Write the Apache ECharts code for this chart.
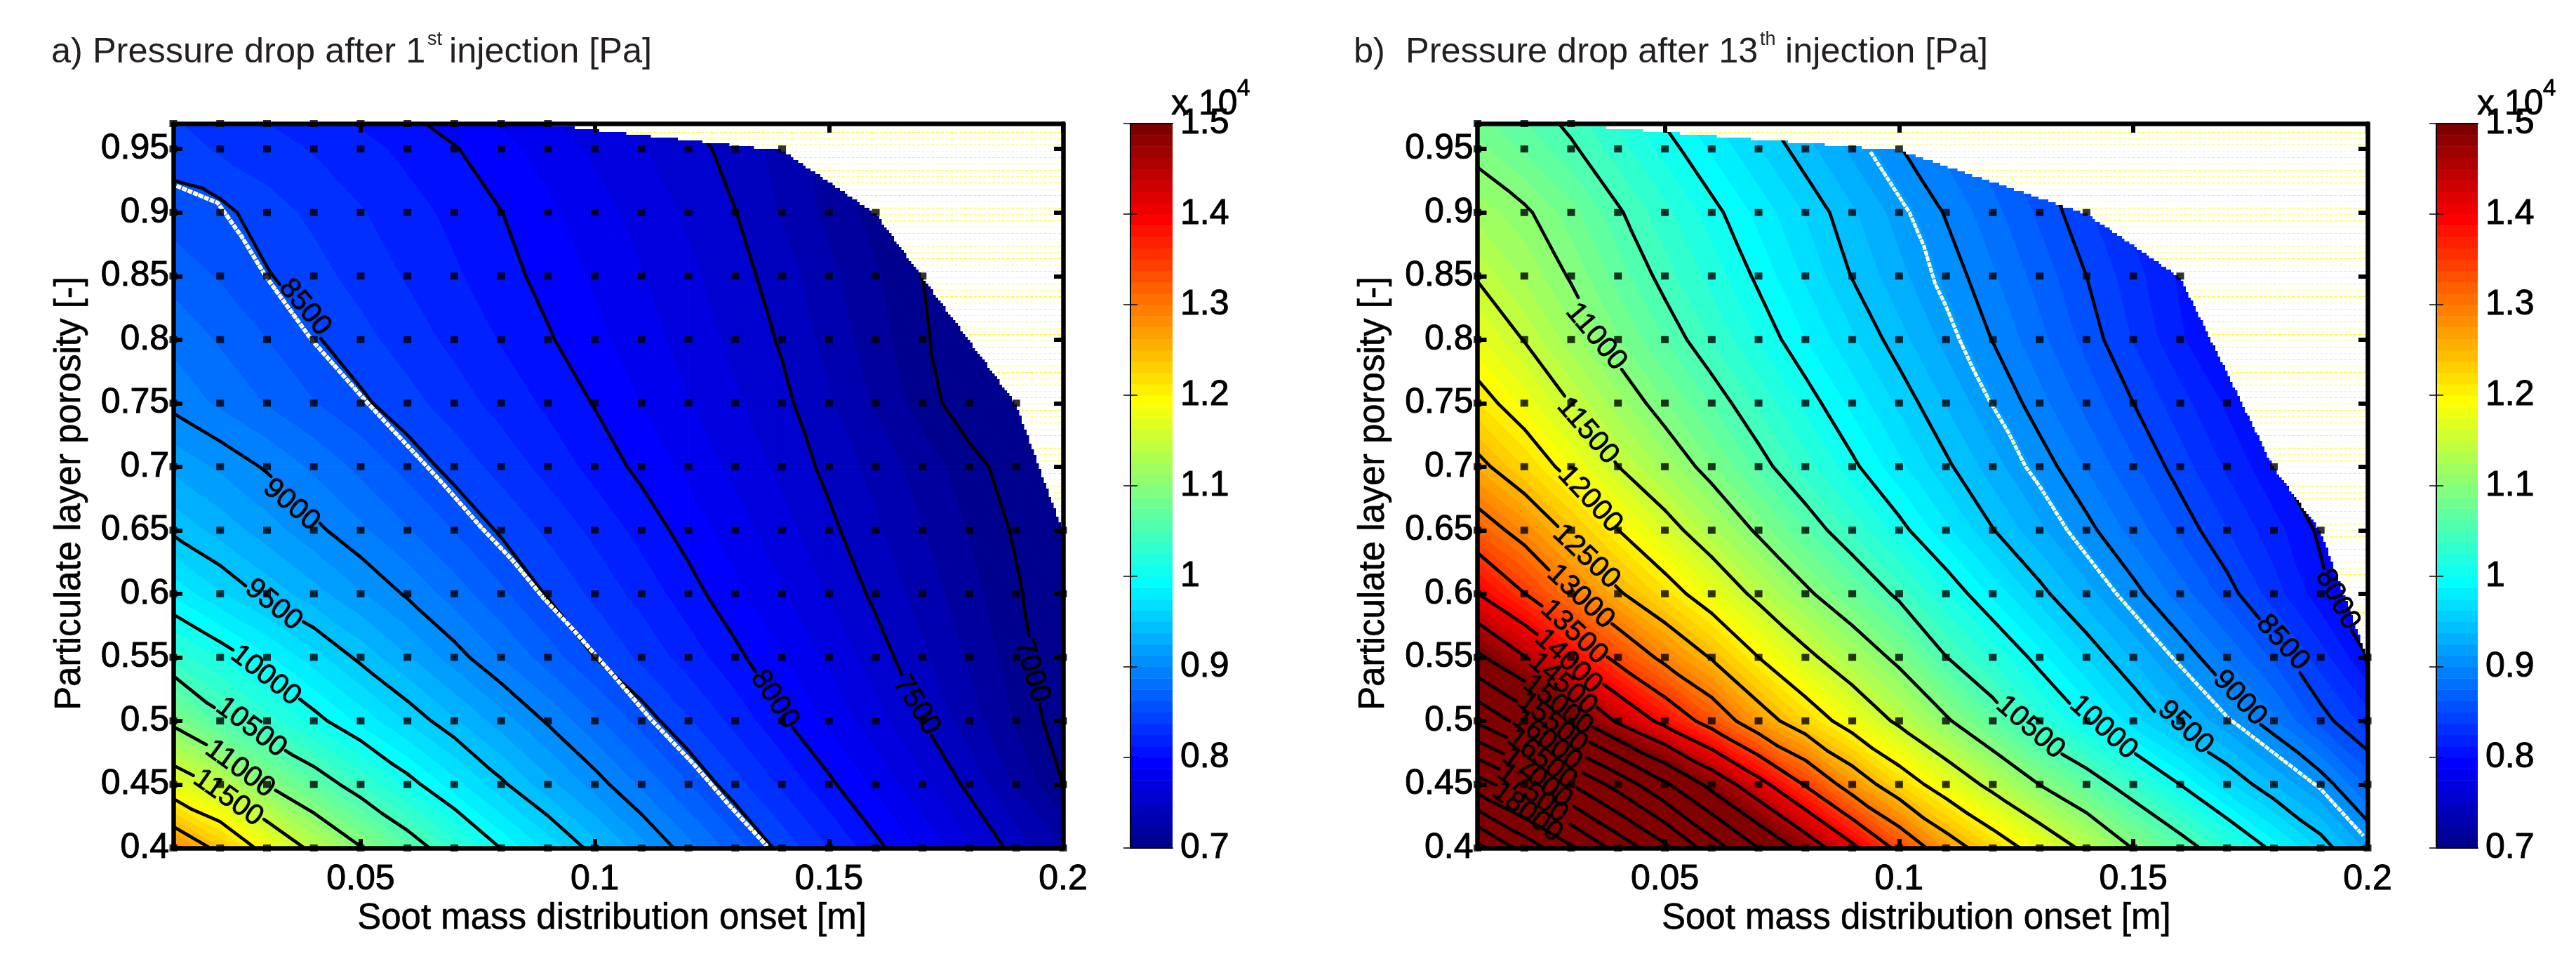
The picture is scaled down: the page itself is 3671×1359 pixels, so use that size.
<!DOCTYPE html>
<html>
<head>
<meta charset="utf-8">
<title>Pressure drop</title>
<script src="https://cdn.jsdelivr.net/npm/echarts@6/dist/echarts.min.js"></script>
<style>
	html, body { margin: 0; padding: 0; background: #fff; }
	#chart { width: 3671px; height: 1359px; }
</style>
</head>
<body>
<div id="chart"></div>
<script>
// measurement nodes, the black squares in the picture
const sootX = [0.01, 0.02, 0.03, 0.04, 0.05, 0.06, 0.07, 0.08, 0.09, 0.1, 0.11, 0.12, 0.13, 0.14, 0.15, 0.16, 0.17, 0.18, 0.19, 0.2];
const porosityY = [0.4, 0.45, 0.5, 0.55, 0.6, 0.65, 0.7, 0.75, 0.8, 0.85, 0.9, 0.95, 0.97];

const xTicks = [0.05, 0.1, 0.15, 0.2];
const yTicks = [0.4, 0.45, 0.5, 0.55, 0.6, 0.65, 0.7, 0.75, 0.8, 0.85, 0.9, 0.95];

// pressure drop [Pa], one row per porosity value
const dropA = [
	[12880, 12396, 11865, 11407, 11019, 10661, 10320, 9994, 9712, 9435, 9173, 8920, 8684, 8455, 8248, 8041, 7843, 7646, 7450, 7248],
	[11748, 11441, 10990, 10670, 10365, 10078, 9802, 9534, 9294, 9069, 8847, 8628, 8419, 8225, 8031, 7843, 7657, 7465, 7233, 7000],
	[10923, 10570, 10308, 10067, 9836, 9609, 9393, 9186, 8980, 8777, 8574, 8388, 8207, 8020, 7846, 7673, 7500, 7305, 7111, 6916],
	[10325, 10115, 9898, 9677, 9460, 9261, 9062, 8872, 8686, 8500, 8345, 8190, 8036, 7879, 7722, 7564, 7400, 7229, 7058, 6890],
	[9845, 9640, 9456, 9297, 9138, 8979, 8814, 8649, 8486, 8343, 8199, 8055, 7908, 7763, 7617, 7470, 7320, 7171, 7021, 6870],
	[9470, 9326, 9183, 9039, 8899, 8760, 8620, 8481, 8348, 8214, 8080, 7945, 7808, 7671, 7534, 7394, 7253, 7115, 6980, 6850],
	[9216, 9100, 8981, 8847, 8714, 8580, 8451, 8327, 8204, 8080, 7964, 7840, 7716, 7591, 7463, 7328, 7192, 7057, 6920, 6790],
	[8960, 8850, 8740, 8630, 8528, 8420, 8309, 8204, 8098, 7992, 7870, 7757, 7643, 7536, 7390, 7230, 7068, 6905, 6830, 6730],
	[8841, 8733, 8625, 8517, 8415, 8315, 8215, 8115, 8015, 7910, 7805, 7699, 7594, 7483, 7330, 7175, 7020, 6900, 6800, 6700],
	[8703, 8610, 8512, 8420, 8328, 8236, 8143, 8050, 7955, 7855, 7755, 7655, 7555, 7432, 7287, 7143, 7000, 6900, 6800, 6700],
	[8565, 8540, 8430, 8345, 8260, 8175, 8090, 8003, 7903, 7803, 7703, 7603, 7503, 7360, 7216, 7072, 6930, 6830, 6730, 6630],
	[8436, 8355, 8300, 8240, 8170, 8090, 8010, 7915, 7820, 7720, 7635, 7550, 7450, 7330, 7200, 7070, 6950, 6850, 6750, 6650],
	[8390, 8310, 8250, 8180, 8110, 8030, 7950, 7860, 7770, 7680, 7590, 7510, 7410, 7290, 7160, 7040, 6920, 6820, 6720, 6620]
];
const dropB = [
	[20150, 19321, 18577, 17833, 17115, 16246, 15500, 14817, 14107, 13385, 12728, 12250, 11819, 11410, 10986, 10646, 10298, 9946, 9606, 9207],
	[18229, 17600, 17000, 16321, 15577, 14857, 14167, 13464, 12781, 12238, 11795, 11389, 10994, 10671, 10332, 9997, 9658, 9368, 9110, 8720],
	[16419, 15800, 15154, 14433, 13864, 13310, 12711, 12248, 11818, 11431, 11046, 10661, 10283, 9994, 9675, 9396, 9160, 8900, 8571, 8310],
	[15089, 14526, 13947, 13378, 12892, 12472, 12000, 11593, 11253, 10915, 10508, 10222, 9927, 9622, 9352, 9106, 8855, 8597, 8306, 8000],
	[14007, 13510, 13015, 12547, 12174, 11792, 11406, 11059, 10748, 10445, 10138, 9842, 9555, 9302, 9058, 8812, 8564, 8307, 8047, 7800],
	[13224, 12846, 12414, 12004, 11639, 11289, 10953, 10638, 10343, 10062, 9785, 9508, 9280, 9052, 8823, 8592, 8378, 8173, 7970, 7780],
	[12600, 12246, 11874, 11504, 11200, 10895, 10586, 10307, 10040, 9786, 9535, 9307, 9083, 8863, 8646, 8432, 8227, 8023, 7800, 7600],
	[12130, 11830, 11491, 11176, 10882, 10613, 10347, 10084, 9837, 9596, 9364, 9140, 8918, 8709, 8500, 8300, 8100, 7900, 7700, 7500],
	[11781, 11488, 11179, 10888, 10620, 10364, 10116, 9878, 9647, 9423, 9208, 8994, 8787, 8579, 8365, 8147, 7930, 7730, 7530, 7330],
	[11475, 11226, 10975, 10697, 10432, 10199, 9964, 9727, 9492, 9291, 9090, 8892, 8696, 8500, 8300, 8100, 7900, 7700, 7500, 7300],
	[11198, 11042, 10801, 10527, 10290, 10056, 9832, 9611, 9397, 9191, 8986, 8792, 8597, 8400, 8200, 8000, 7830, 7660, 7490, 7320],
	[10920, 10727, 10535, 10308, 10075, 9852, 9635, 9422, 9217, 9012, 8840, 8670, 8500, 8350, 8200, 8050, 7900, 7750, 7600, 7450],
	[10810, 10640, 10450, 10230, 9990, 9770, 9560, 9350, 9140, 8940, 8770, 8600, 8430, 8280, 8130, 7980, 7830, 7680, 7530, 7380]
];

// index of the last measured column in each porosity row
const lastColA = [19, 19, 19, 19, 19, 19, 18, 18, 16, 16, 15, 13, 8];
const lastColB = [19, 19, 19, 19, 18, 18, 17, 16, 15, 15, 13, 9, 2];

// outline of the measured region, top right side
const hullAX = [0.09, 0.14, 0.16, 0.17, 0.19, 0.2];
const hullAY = [0.97, 0.95, 0.9, 0.85, 0.75, 0.65];
const hullBX = [0.03, 0.1, 0.14, 0.16, 0.18, 0.19, 0.2];
const hullBY = [0.97, 0.95, 0.9, 0.85, 0.7, 0.65, 0.55];

// the white speckled strip next to one contour
const stripAX = [0.0107, 0.0195, 0.0246, 0.0297, 0.0395, 0.0515, 0.0642, 0.0678, 0.0757, 0.0824, 0.089, 0.0956, 0.104, 0.1122, 0.1213, 0.1287, 0.1368];
const stripAY = [0.921, 0.9075, 0.881, 0.85, 0.8, 0.75, 0.7, 0.6857, 0.6524, 0.6265, 0.5969, 0.5709, 0.5357, 0.5004, 0.4652, 0.4337, 0.4013];
const stripBX = [0.0939, 0.1022, 0.1053, 0.1077, 0.1099, 0.1129, 0.116, 0.1191, 0.1233, 0.127, 0.1298, 0.1359, 0.1464, 0.1583, 0.1703, 0.1899, 0.1991];
const stripBY = [0.9476, 0.9, 0.8735, 0.8439, 0.8272, 0.8, 0.7754, 0.7531, 0.7272, 0.7, 0.6857, 0.65, 0.6, 0.55, 0.5022, 0.4467, 0.4096];

// contour labels: level, centre and tilt in degrees
const labelALevel = [7000, 7500, 8000, 8500, 9000, 9500, 10000, 10500, 11000, 11500];
const labelAX = [0.1933, 0.1687, 0.1384, 0.0381, 0.0352, 0.0314, 0.0297, 0.0266, 0.0242, 0.0217];
const labelAY = [0.5393, 0.5124, 0.517, 0.8253, 0.67, 0.5913, 0.5357, 0.4948, 0.4622, 0.4393];
const labelATilt = [-73, -58, -56, -50, -40, -39, -38, -37, -36, -35];

const labelBLevel = [8000, 8500, 9000, 9500, 10000, 10500, 11000, 11500, 12000, 12500, 13000, 13500, 14000, 14500, 15000, 15500, 16000, 16500, 17000, 17500, 18000];
const labelBX = [0.1936, 0.1819, 0.1727, 0.1611, 0.1436, 0.128, 0.0353, 0.0335, 0.034, 0.0332, 0.032, 0.0306, 0.0294, 0.0282, 0.0272, 0.026, 0.0248, 0.0237, 0.0227, 0.0217, 0.0206];
const labelBY = [0.5957, 0.5615, 0.518, 0.4948, 0.4948, 0.4948, 0.8022, 0.7281, 0.6744, 0.6291, 0.5976, 0.5698, 0.5467, 0.5291, 0.5124, 0.4985, 0.4846, 0.4698, 0.455, 0.443, 0.4281];
const labelBTilt = [-62, -48, -47, -43, -42, -41, -50, -49, -47, -43, -43, -43, -43, -41, -38, -38, -38, -38, -38, -37, -37];

const contourStep = 500;
const colorMin = 7000;
const colorMax = 15000;
const colorTicks = [0.7, 1.5];

const fontName = '"Liberation Sans", Arial, sans-serif';

// MATLAB jet(64)
function buildJet() {
	const u = [];
	for (let i = 1; i <= 16; i++) u.push(i / 16);
	for (let i = 0; i < 15; i++) u.push(1);
	for (let i = 16; i >= 1; i--) u.push(i / 16);
	const table = [];
	for (let i = 0; i < 64; i++) table.push([0, 0, 0]);
	u.forEach(function (val, i) {
		const g = 8 + i;
		const r = g + 16;
		const b = g - 16;
		if (r < 64) table[r][0] = val;
		if (g < 64) table[g][1] = val;
		if (b >= 0) table[b][2] = val;
	});
	return table.map(c => 'rgb(' + Math.round(c[0] * 255) + ',' + Math.round(c[1] * 255) + ',' + Math.round(c[2] * 255) + ')');
}
const jet = buildJet();
const bandSize = (colorMax - colorMin) / 64;

// triangles of the measurement mesh, the diagonal follows the contours
function buildTriangles(drop) {
	const tris = [];
	for (let r = 0; r < porosityY.length - 1; r++) {
		for (let c = 0; c < sootX.length - 1; c++) {
			const a = [sootX[c], porosityY[r], drop[r][c]];
			const b = [sootX[c + 1], porosityY[r], drop[r][c + 1]];
			const d = [sootX[c], porosityY[r + 1], drop[r + 1][c]];
			const e = [sootX[c + 1], porosityY[r + 1], drop[r + 1][c + 1]];
			tris.push([a, b, d]);
			tris.push([b, e, d]);
		}
	}
	return tris;
}

function clipPoly(poly, level, keepAbove) {
	const out = [];
	for (let i = 0; i < poly.length; i++) {
		const p = poly[i];
		const q = poly[(i + 1) % poly.length];
		const pIn = keepAbove ? p[2] >= level : p[2] <= level;
		const qIn = keepAbove ? q[2] >= level : q[2] <= level;
		if (pIn) out.push(p);
		if (pIn !== qIn) {
			const t = (level - p[2]) / (q[2] - p[2]);
			out.push([p[0] + (q[0] - p[0]) * t, p[1] + (q[1] - p[1]) * t, level]);
		}
	}
	return out;
}

function bandOf(v) {
	return Math.max(0, Math.min(63, Math.floor((v - colorMin) / bandSize)));
}

function buildSegments(tris) {
	const segs = [];
	tris.forEach(function (t) {
		const vals = t.map(p => p[2]);
		const lo = Math.ceil(Math.min.apply(null, vals) / contourStep);
		const hi = Math.floor(Math.max.apply(null, vals) / contourStep);
		for (let k = lo; k <= hi; k++) {
			const level = k * contourStep;
			const pts = [];
			for (let i = 0; i < 3; i++) {
				const p = t[i];
				const q = t[(i + 1) % 3];
				if ((p[2] < level) !== (q[2] < level)) {
					const f = (level - p[2]) / (q[2] - p[2]);
					pts.push([p[0] + (q[0] - p[0]) * f, p[1] + (q[1] - p[1]) * f]);
				}
			}
			if (pts.length === 2) segs.push({ a: pts[0], b: pts[1], level: level });
		}
	});
	return segs;
}

// parts of segment p-q outside the rotated text box of its label
function cutAtLabel(p, q, c, tilt, halfLen, halfH) {
	const ang = tilt * Math.PI / 180;
	const dx = Math.cos(ang);
	const dy = -Math.sin(ang);
	const u0 = (p[0] - c[0]) * dx + (p[1] - c[1]) * dy;
	const u1 = (q[0] - c[0]) * dx + (q[1] - c[1]) * dy;
	const v0 = -(p[0] - c[0]) * dy + (p[1] - c[1]) * dx;
	const v1 = -(q[0] - c[0]) * dy + (q[1] - c[1]) * dx;
	let t0 = 0;
	let t1 = 1;
	[[u0, u1, halfLen], [v0, v1, halfH]].forEach(function (s) {
		const d = s[1] - s[0];
		if (Math.abs(d) < 1e-6) {
			if (Math.abs(s[0]) > s[2]) t1 = -1;
			return;
		}
		const a = (-s[2] - s[0]) / d;
		const b = (s[2] - s[0]) / d;
		t0 = Math.max(t0, Math.min(a, b));
		t1 = Math.min(t1, Math.max(a, b));
	});
	if (t0 >= t1) return [[p, q]];
	const at = t => [p[0] + (q[0] - p[0]) * t, p[1] + (q[1] - p[1]) * t];
	const parts = [];
	if (t0 > 0) parts.push([p, at(t0)]);
	if (t1 < 1) parts.push([at(t1), q]);
	return parts;
}

function makePanel(cfg) {
	const tris = buildTriangles(cfg.drop);
	const segs = buildSegments(tris);
	const ax = { xAxisIndex: cfg.axis, yAxisIndex: cfg.axis };
	const labelAt = {};
	cfg.labelLevel.forEach(function (l, i) { labelAt[l] = i; });

	const dots = [];
	porosityY.forEach(function (y, r) {
		for (let c = 0; c <= cfg.lastCol[r]; c++) dots.push([sootX[c], y]);
	});

	const series = [];

	series.push(Object.assign({
		type: 'custom', silent: true, clip: true, z: 1, progressive: 0,
		data: tris.map(t => [t[0][0], t[0][1]]),
		renderItem: function (params, api) {
			const t = tris[params.dataIndex];
			const vals = t.map(p => p[2]);
			const first = bandOf(Math.min.apply(null, vals));
			const last = bandOf(Math.max.apply(null, vals));
			const pts = t.map(function (p) {
				const xy = api.coord([p[0], p[1]]);
				return [xy[0], xy[1], p[2]];
			});
			const children = [];
			for (let k = first; k <= last; k++) {
				let poly = pts;
				if (k > 0) poly = clipPoly(poly, colorMin + k * bandSize, true);
				if (k < 63 && poly.length) poly = clipPoly(poly, colorMin + (k + 1) * bandSize, false);
				if (poly.length < 3) continue;
				children.push({
					type: 'polygon',
					shape: { points: poly.map(p => [p[0], p[1]]) },
					style: { fill: jet[k], stroke: jet[k], lineWidth: 1 }
				});
			}
			return { type: 'group', children: children };
		}
	}, ax));

	series.push(Object.assign({
		type: 'custom', silent: true, clip: true, z: 2, progressive: 0,
		data: segs.map(s => [s.a[0], s.a[1]]),
		renderItem: function (params, api) {
			const s = segs[params.dataIndex];
			const p = api.coord(s.a);
			const q = api.coord(s.b);
			let parts = [[p, q]];
			const li = labelAt[s.level];
			if (li !== undefined) {
				const c = api.coord([cfg.labelX[li], cfg.labelY[li]]);
				const halfLen = String(s.level).length * 11 + 4;
				parts = cutAtLabel(p, q, c, cfg.labelTilt[li], halfLen, 24);
			}
			return {
				type: 'group',
				children: parts.map(pp => ({
					type: 'line',
					shape: { x1: pp[0][0], y1: pp[0][1], x2: pp[1][0], y2: pp[1][1] },
					style: { stroke: '#000', lineWidth: 4.6, lineCap: 'round' }
				}))
			};
		}
	}, ax));

	// white region outside the measured points with the faint yellow rows
	series.push(Object.assign({
		type: 'custom', silent: true, clip: true, z: 3,
		data: [[0.2, 0.97]],
		renderItem: function (params, api) {
			const hull = cfg.hullX.map((x, i) => api.coord([x, cfg.hullY[i]]));
			const right = api.coord([0.2, 0.97])[0];
			const leftAt = function (py) {
				for (let i = 0; i < hull.length - 1; i++) {
					if (py <= hull[i + 1][1]) {
						return hull[i][0] + (hull[i + 1][0] - hull[i][0]) * (py - hull[i][1]) / (hull[i + 1][1] - hull[i][1]);
					}
				}
				return right;
			};
			const top = hull[0][1];
			const bottom = hull[hull.length - 1][1];
			const pts = [[right, top]];
			for (let py = top; py < bottom; py += 4) {
				const x = Math.min(right, Math.round(leftAt(py) / 3.5) * 3.5);
				pts.push([x, py]);
				pts.push([x, py + 4]);
			}
			pts.push([right, bottom]);
			const children = [{ type: 'polygon', shape: { points: pts }, style: { fill: '#fff' } }];
			let n = 0;
			for (let py = 188.5; py < bottom; py += 9) {
				const x = py < top ? hull[0][0] : leftAt(py);
				if (x + 4 < right) {
					children.push({
						type: 'line',
						shape: { x1: right - 3, y1: py, x2: x + 4, y2: py },
						style: { stroke: '#ffff00', lineWidth: 1, lineDash: [4, 2.7], opacity: n % 2 ? 0.55 : 1 }
					});
				}
				n++;
			}
			return { type: 'group', children: children };
		}
	}, ax));

	const stripData = cfg.stripX.map((x, i) => [x, cfg.stripY[i]]);
	series.push(Object.assign({
		type: 'line', silent: true, z: 4, symbol: 'none', data: stripData,
		lineStyle: { color: '#fff', width: cfg.stripWidth, type: [7, 1.5] }
	}, ax));
	series.push(Object.assign({
		type: 'line', silent: true, z: 4, symbol: 'none', data: stripData,
		lineStyle: { color: '#ffff00', width: 2.5, type: [2.5, 8] }
	}, ax));

	series.push(Object.assign({
		type: 'scatter', silent: true, z: 5, clip: false, symbol: 'rect', symbolSize: [11, 10],
		itemStyle: { color: '#000' }, data: dots
	}, ax));

	series.push(Object.assign({
		type: 'custom', silent: true, clip: false, z: 6,
		data: cfg.labelLevel.map((l, i) => [cfg.labelX[i], cfg.labelY[i]]),
		renderItem: function (params, api) {
			const i = params.dataIndex;
			const c = api.coord([cfg.labelX[i], cfg.labelY[i]]);
			return {
				type: 'text',
				x: c[0], y: c[1],
				rotation: cfg.labelTilt[i] * Math.PI / 180,
				style: {
					text: String(cfg.labelLevel[i]), fill: '#000',
					fontSize: 41, fontFamily: fontName,
					stroke: '#000', lineWidth: 0.8,
					align: 'center', verticalAlign: 'middle'
				}
			};
		}
	}, ax));

	// colour bar
	series.push({
		type: 'custom', silent: true, z: 1, xAxisIndex: cfg.axis + 2, yAxisIndex: cfg.axis + 2,
		data: jet.map((c, i) => [0, i]),
		renderItem: function (params, api) {
			const i = params.dataIndex;
			const a = api.coord([0, colorTicks[0] + i * 0.0125]);
			const b = api.coord([1, colorTicks[0] + (i + 1) * 0.0125]);
			return {
				type: 'rect',
				shape: { x: a[0], y: b[1], width: b[0] - a[0], height: a[1] - b[1] + 0.5 },
				style: { fill: jet[i] }
			};
		}
	});
	return series;
}

const panels = [
	{
		axis: 0, drop: dropA, lastCol: lastColA, hullX: hullAX, hullY: hullAY,
		stripX: stripAX, stripY: stripAY, stripWidth: 6,
		labelLevel: labelALevel, labelX: labelAX, labelY: labelAY, labelTilt: labelATilt,
		plot: { left: 247, top: 176, width: 1268, height: 1032 },
		bar: { left: 1611, top: 176, width: 60, height: 1032 }
	},
	{
		axis: 4, drop: dropB, lastCol: lastColB, hullX: hullBX, hullY: hullBY,
		stripX: stripBX, stripY: stripBY, stripWidth: 5,
		labelLevel: labelBLevel, labelX: labelBX, labelY: labelBY, labelTilt: labelBTilt,
		plot: { left: 2105.5, top: 176, width: 1268.5, height: 1032 },
		bar: { left: 3472, top: 176, width: 59, height: 1032 }
	}
];

const grids = [];
const xAxes = [];
const yAxes = [];
let allSeries = [];

const boldLine = { lineStyle: { color: '#000', width: 6.5 } };
const tickStyle = { inside: true, length: 13, lineStyle: { color: '#000', width: 6 } };
const labelFont = { color: '#000', fontSize: 50, fontFamily: fontName, textBorderColor: '#000', textBorderWidth: 1 };
const nameFont = { color: '#000', fontSize: 51, fontFamily: fontName, textBorderColor: '#000', textBorderWidth: 0.6 };

panels.forEach(function (p, n) {
	const gi = grids.length;
	grids.push(p.plot);
	grids.push(p.bar);
	const xBase = { type: 'value', min: 0.01, max: 0.2, gridIndex: gi, splitLine: { show: false }, z: 10, axisLine: boldLine };
	xAxes.push(Object.assign({}, xBase, {
		position: 'bottom',
		name: 'Soot mass distribution onset [m]',
		nameLocation: 'middle', nameGap: 67,
		nameTextStyle: Object.assign({ padding: [0, 18, 0, 0] }, nameFont),
		axisTick: Object.assign({ customValues: xTicks }, tickStyle),
		axisLabel: Object.assign({ customValues: xTicks, margin: 20, formatter: v => String(v), hideOverlap: false }, labelFont)
	}));
	xAxes.push(Object.assign({}, xBase, {
		position: 'top',
		axisTick: Object.assign({ customValues: xTicks }, tickStyle),
		axisLabel: { show: false }
	}));
	const yBase = { type: 'value', min: 0.4, max: 0.97, gridIndex: gi, splitLine: { show: false }, z: 10, axisLine: boldLine };
	yAxes.push(Object.assign({}, yBase, {
		position: 'left',
		name: 'Particulate layer porosity [-]',
		nameLocation: 'middle', nameGap: 122, nameRotate: 90,
		nameTextStyle: Object.assign({ padding: [0, 22, 0, 0] }, nameFont),
		axisTick: Object.assign({ customValues: yTicks }, tickStyle),
		axisLabel: Object.assign({ customValues: yTicks, margin: 6, formatter: v => String(v), hideOverlap: false }, labelFont)
	}));
	yAxes.push(Object.assign({}, yBase, {
		position: 'right',
		axisTick: Object.assign({ customValues: yTicks }, tickStyle),
		axisLabel: { show: false }
	}));
	// colour bar axes
	const thin = { lineStyle: { color: '#000', width: 2 } };
	const cbX = { type: 'value', min: 0, max: 1, gridIndex: gi + 1, splitLine: { show: false }, axisTick: { show: false }, axisLabel: { show: false }, axisLine: thin, z: 10 };
	xAxes.push(Object.assign({}, cbX, { position: 'bottom' }));
	xAxes.push(Object.assign({}, cbX, { position: 'top' }));
	const cbY = {
		type: 'value', min: colorTicks[0], max: colorTicks[1], interval: 0.1, gridIndex: gi + 1,
		splitLine: { show: false }, axisLine: thin, z: 10,
		axisTick: { inside: true, length: 10, lineStyle: { color: '#000', width: 1.5 } }
	};
	yAxes.push(Object.assign({}, cbY, {
		position: 'right',
		axisLabel: Object.assign({ margin: 11, formatter: v => String(+v.toFixed(1)), showMinLabel: true, showMaxLabel: true }, labelFont)
	}));
	yAxes.push(Object.assign({}, cbY, { position: 'left', axisLabel: { show: false } }));
	allSeries = allSeries.concat(makePanel(p));
});

function text(str, x, y, size, fill) {
	return {
		type: 'text', x: x, y: y, silent: true, z: 20,
		style: {
			text: str, fontSize: size, fontFamily: fontName, fill: fill || '#000',
			stroke: fill ? null : '#000', lineWidth: fill ? 0 : 0.8,
			verticalAlign: 'bottom', align: 'left'
		}
	};
}

const titleColor = '#231f20';
const graphics = [
	text('a) Pressure drop after 1', 73, 101, 50.5, titleColor),
	text('st', 609, 70, 27, titleColor),
	text('injection [Pa]', 640, 101, 50.5, titleColor),
	text('b)', 1929, 101, 50.5, titleColor),
	text('Pressure drop after 13', 2003, 101, 50.5, titleColor),
	text('th', 2508, 70, 27, titleColor),
	text('injection [Pa]', 2544, 101, 50.5, titleColor),
	text('x 10', 1669, 174, 50),
	text('4', 1763, 143, 33),
	text('x 10', 3530, 174, 50),
	text('4', 3624, 143, 33)
];

const chart = echarts.init(document.getElementById('chart'), null, { renderer: 'canvas' });
chart.setOption({
	animation: false,
	backgroundColor: '#fff',
	grid: grids,
	xAxis: xAxes,
	yAxis: yAxes,
	series: allSeries,
	graphic: graphics
});
</script>
</body>
</html>
